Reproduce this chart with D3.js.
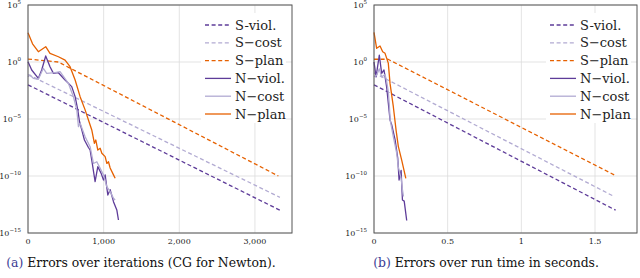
<!DOCTYPE html>
<html>
<head>
<meta charset="utf-8">
<script src="https://cdn.jsdelivr.net/npm/d3@7"></script>
<style>
  body { margin: 0; background: #fff; }
</style>
</head>
<body>
<div id="chart"></div>
<script>
// values are log10 of the error
const seriesNames = ["S-viol.", "S\u2212cost", "S\u2212plan", "N\u2212viol.", "N\u2212cost", "N\u2212plan"]

// (a) over iterations
const sViolIter = [[0, -2.0], [3330, -13.0]]
const sCostIter = [[0, -1.1], [3330, -11.87]]
const sPlanIter = [[0, 0.26], [400, 0.0], [3310, -10.0]]
const nViolIter = [[0, 0.03], [49, -0.7], [137, -1.43], [181, -0.7], [234, 0.53], [291, -0.41], [336, -1.0],
  [402, -0.94], [490, -1.58], [578, -2.16], [623, -3.04], [658, -4.2], [680, -5.2], [711, -5.96], [746, -6.84],
  [799, -7.5], [821, -7.72], [843, -8.6], [887, -10.5], [923, -9.18], [967, -9.77], [998, -10.35], [1020, -9.9],
  [1055, -11.67], [1086, -11.2], [1130, -12.25], [1174, -12.98], [1196, -13.86]]
const nCostIter = [[0, -1.29], [26, -1.14], [70, -1.43], [137, -1.52], [203, -0.55], [247, -0.99], [358, -0.94],
  [424, -0.85], [534, -1.87], [600, -3.04], [645, -4.2], [667, -5.67], [689, -5.38], [755, -6.55], [821, -7.43],
  [865, -8.9], [910, -8.75], [954, -9.33], [998, -9.9], [1042, -10.94], [1086, -11.37], [1130, -11.96], [1152, -12.1]]
const nPlanIter = [[0, 2.57], [60, 1.6], [137, 0.9], [234, 1.34], [291, 0.76], [402, 0.46], [490, 0.17], [556, -0.41],
  [623, -1.58], [689, -3.04], [755, -4.2], [799, -5.09], [843, -5.96], [878, -7.13], [896, -6.84], [923, -7.72],
  [954, -7.57], [976, -8.0], [1020, -8.3], [1042, -8.9], [1064, -8.75], [1086, -9.3], [1130, -9.9], [1152, -10.2]]
const iterTicks = [0, 1000, 2000, 3000]

// (b) over run time in seconds
const sViolTime = [[0, -2.0], [1.64, -13.0]]
const sCostTime = [[0, -0.95], [1.63, -11.8]]
const sPlanTime = [[0, 0.24], [0.095, 0.24], [1.63, -9.9]]
const nViolTime = [[0, 0.0], [0.014, -1.3], [0.036, 0.6], [0.052, -1.0], [0.068, -0.7], [0.086, -2.2], [0.097, -3.6],
  [0.109, -5.1], [0.12, -5.5], [0.143, -6.8], [0.161, -8.4], [0.17, -10.35], [0.184, -9.5], [0.193, -12.1],
  [0.205, -12.2], [0.222, -13.9]]
const nCostTime = [[0, -1.3], [0.018, -1.15], [0.036, -0.6], [0.052, -1.3], [0.075, -1.1], [0.086, -1.7],
  [0.097, -2.6], [0.103, -3.6], [0.11, -5.1], [0.131, -6.55], [0.154, -8.0], [0.165, -9.2], [0.184, -10.2],
  [0.193, -11.2], [0.2, -11.8]]
const nPlanTime = [[0, 2.6], [0.018, 1.2], [0.041, 1.4], [0.059, 0.9], [0.075, 0.76], [0.097, -0.1], [0.109, -1.9],
  [0.131, -3.9], [0.15, -6.0], [0.165, -7.4], [0.188, -8.6], [0.216, -10.2]]
const timeTicks = [0, 0.5, 1, 1.5]

const yTickExps = [5, 0, -5, -10, -15]

const colors = ["#5e3c99", "#b2abd2", "#e66101", "#5e3c99", "#b2abd2", "#e66101"]
const dashed = [true, true, true, false, false, false]

const width = 640
const height = 278
const serif = "'DejaVu Serif', 'Liberation Serif', serif"

const svg = d3.select("#chart").append("svg")
  .attr("width", width).attr("height", height)
  .attr("font-family", serif)

function drawPanel(opt) {
  const x = d3.scaleLinear().domain(opt.xDomain).range([opt.left, opt.right])
  const y = d3.scaleLog().domain([1e-15, 1e5]).range([233, 5])
  const g = svg.append("g")

  // grid
  g.selectAll(".vgrid")
    .data(opt.ticks)
    .join("line")
    .attr("x1", d => x(d)).attr("x2", d => x(d))
    .attr("y1", y.range()[0]).attr("y2", y.range()[1])
    .attr("stroke", "#dcdcdc").attr("stroke-width", 0.8)
  g.selectAll(".hgrid")
    .data(yTickExps)
    .join("line")
    .attr("x1", opt.left).attr("x2", opt.right)
    .attr("y1", d => y(10 ** d)).attr("y2", d => y(10 ** d))
    .attr("stroke", "#dcdcdc").attr("stroke-width", 0.8)

  const line = d3.line().x(d => x(d[0])).y(d => y(10 ** d[1]))

  g.selectAll(".series")
    .data(opt.series)
    .join("path")
    .attr("d", d => line(d))
    .attr("fill", "none")
    .attr("stroke", (d, i) => colors[i])
    .attr("stroke-width", 1.3)
    .attr("stroke-linejoin", "round")
    .attr("stroke-dasharray", (d, i) => dashed[i] ? "4,2.6" : null)

  // legend
  const lg = g.append("g")
  lg.append("rect")
    .attr("x", opt.right - 91).attr("y", 13)
    .attr("width", 85).attr("height", 110)
    .attr("fill", "#fff")
  const rows = lg.selectAll(".row")
    .data(seriesNames)
    .join("g")
    .attr("transform", (d, i) => `translate(0,${25 + i * 17.8})`)
  rows.append("line")
    .attr("x1", opt.right - 87).attr("x2", opt.right - 61)
    .attr("stroke", (d, i) => colors[i])
    .attr("stroke-width", 1.3)
    .attr("stroke-dasharray", (d, i) => dashed[i] ? "4,2.6" : null)
  rows.append("text")
    .attr("x", opt.right - 57).attr("y", 4.6)
    .attr("font-size", 13)
    .attr("fill", "#222")
    .text(d => d)

  // frame
  g.append("rect")
    .attr("x", opt.left).attr("y", 5)
    .attr("width", opt.right - opt.left).attr("height", 228)
    .attr("fill", "none").attr("stroke", "#555").attr("stroke-width", 1)

  // x tick labels
  g.selectAll(".xlab")
    .data(opt.ticks)
    .join("text")
    .attr("x", d => x(d)).attr("y", 244)
    .attr("text-anchor", "middle")
    .attr("font-size", 8)
    .attr("fill", "#222")
    .text(d => opt.fmt(d))

  // y tick labels
  const yl = g.selectAll(".ylab")
    .data(yTickExps)
    .join("text")
    .attr("x", opt.left - 7).attr("y", d => y(10 ** d) + 3)
    .attr("text-anchor", "end")
    .attr("font-size", 8)
    .attr("fill", "#222")
  yl.append("tspan").text("10")
  yl.append("tspan").attr("dy", -4).attr("font-size", 5.5)
    .text(d => d < 0 ? "\u2212" + (-d) : String(d))

  // caption
  const cap = g.append("text")
    .attr("x", opt.capX).attr("y", 267)
    .attr("text-anchor", "middle")
    .attr("font-size", 12.4)
    .attr("fill", "#111")
  cap.append("tspan").attr("fill", "#3b3b94").text(opt.capTag)
  cap.append("tspan").text(" " + opt.capText)
}

drawPanel({
  left: 28, right: 292, xDomain: [0, 3490], ticks: iterTicks,
  fmt: d3.format(","),
  series: [sViolIter, sCostIter, sPlanIter, nViolIter, nCostIter, nPlanIter],
  capX: 141, capTag: "(a)", capText: "Errors over iterations (CG for Newton)."
})

drawPanel({
  left: 374, right: 637, xDomain: [0, 1.785], ticks: timeTicks,
  fmt: d => String(d),
  series: [sViolTime, sCostTime, sPlanTime, nViolTime, nCostTime, nPlanTime],
  capX: 486, capTag: "(b)", capText: "Errors over run time in seconds."
})
</script>
</body>
</html>
